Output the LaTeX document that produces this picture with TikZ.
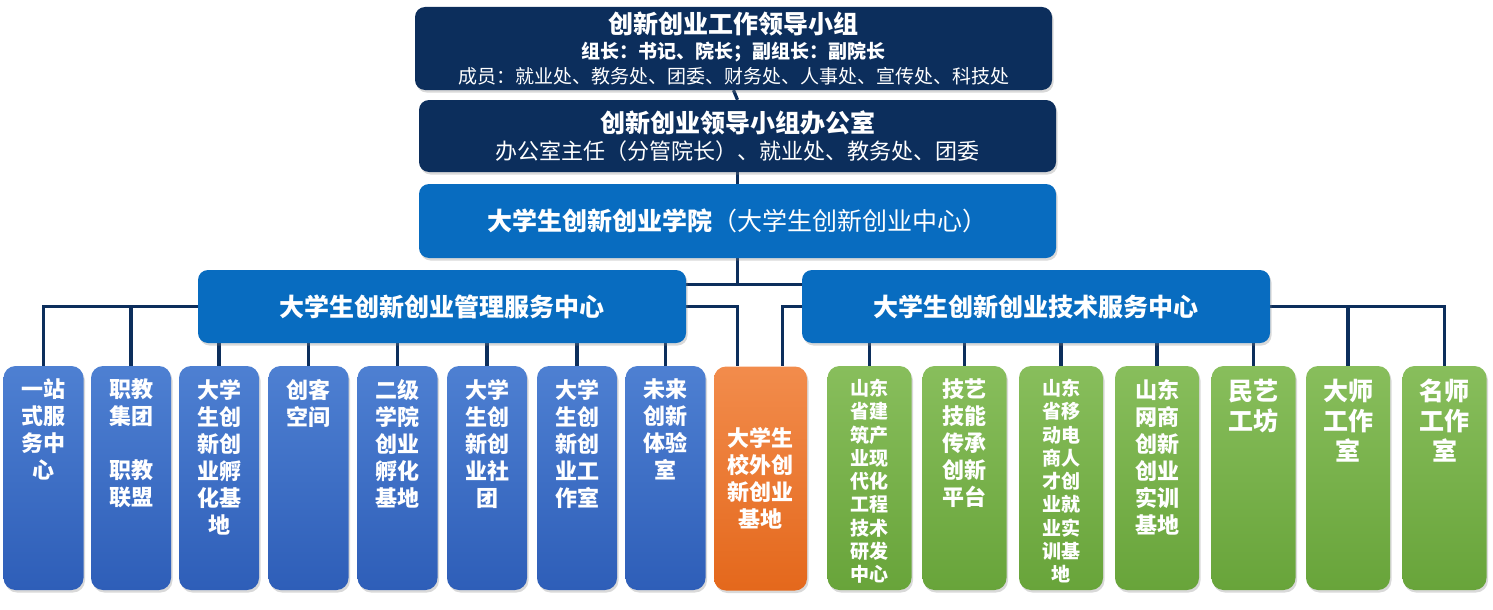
\documentclass[tikz,border=0pt]{standalone}
\usepackage{fontspec}
\setmainfont{Noto Sans CJK SC}
\usetikzlibrary{positioning,shadows,backgrounds}
\definecolor{navy}{RGB}{12,46,92}
\definecolor{midblue}{RGB}{8,108,192}
\definecolor{itemtop}{RGB}{78,128,210}
\definecolor{itembot}{RGB}{46,94,184}
\definecolor{orgtop}{RGB}{242,140,76}
\definecolor{orgbot}{RGB}{228,104,28}
\definecolor{grntop}{RGB}{136,190,92}
\definecolor{grnbot}{RGB}{104,164,58}

\begin{document}
\begin{tikzpicture}[x=1pt,y=-1pt,
    link/.style={draw=navy, line width=3.2pt},
    shade box/.style={drop shadow={shadow xshift=1.5pt, shadow yshift=-2.5pt, opacity=0.3}},
    headbox/.style={shade box, rounded corners=10pt, fill=navy, text=white, align=center,
        minimum width=637pt, inner sep=0pt},
    unitbox/.style={shade box, rounded corners=10pt, fill=midblue, text=white, align=center,
        minimum height=73pt, inner sep=0pt, font=\fontsize{25}{27}\selectfont\bfseries},
    itembox/.style={shade box, rounded corners=12pt, top color=itemtop, bottom color=itembot,
        minimum width=80pt, minimum height=224pt, inner sep=0pt},
    basebox/.style={itembox, top color=orgtop, bottom color=orgbot, minimum width=93pt},
    techbox/.style={itembox, top color=grntop, bottom color=grnbot, minimum width=84pt},
    itemtext/.style={text=white, align=center, inner sep=0pt, font=\fontsize{22}{27}\selectfont\bfseries},
    smalltext/.style={itemtext, font=\fontsize{19}{23.3}\selectfont\bfseries},
    bigtext/.style={itemtext, font=\fontsize{25}{30}\selectfont\bfseries}]
    \useasboundingbox (0,0) rectangle (1493,610);

    % leadership
    \node[headbox, minimum height=83pt, font=\fontsize{19}{25}\selectfont] (lead) at (733.5,48.5)
        {{\fontsize{25}{27}\selectfont\bfseries 创新创业工作领导小组}\\
         {\bfseries 组长：书记、院长；副组长：副院长}\\
         成员：就业处、教务处、团委、财务处、人事处、宣传处、科技处};
    \node[headbox, minimum height=72pt, font=\fontsize{22}{27}\selectfont] (office) at (737.5,136)
        {{\fontsize{25}{27}\selectfont\bfseries 创新创业领导小组办公室}\\
         办公室主任（分管院长）、就业处、教务处、团委};
    \node[unitbox, minimum width=637pt, minimum height=74pt] (college) at (737.5,221)
        {大学生创新创业学院{\mdseries （大学生创新创业中心）}};

    % service centres
    \node[unitbox, minimum width=488pt] (mgmt) at (442,306.5) {大学生创新创业管理服务中心};
    \node[unitbox, minimum width=468pt] (tech) at (1036,306.5) {大学生创新创业技术服务中心};

    % management units
    \node[itembox] (b1) at (43.5,478) {};
    \node[itembox] (b2) at (131,478) {};
    \node[itembox] (b3) at (219,478) {};
    \node[itembox] (b4) at (308.5,478) {};
    \node[itembox] (b5) at (397.5,478) {};
    \node[itembox] (b6) at (487,478) {};
    \node[itembox] (b7) at (577,478) {};
    \node[itembox] (b8) at (665.5,478) {};
    \node[basebox] (base) at (760.5,478.5) {};
    % technical units
    \node[techbox] (g1) at (869.5,478) {};
    \node[techbox] (g2) at (964.5,478) {};
    \node[techbox] (g3) at (1061,478) {};
    \node[techbox] (g4) at (1157,478) {};
    \node[techbox] (g5) at (1253.5,478) {};
    \node[techbox] (g6) at (1348,478) {};
    \node[techbox] (g7) at (1444.5,478) {};

    \node[itemtext, below=13pt of b1.north] (t1) {一站\\式服\\务中\\心};
    \node[itemtext, below=13pt of b2.north] (t2) {职教\\集团\\[27pt]职教\\联盟};
    \node[itemtext, below=13pt of b3.north] (t3) {大学\\生创\\新创\\业孵\\化基\\地};
    \node[itemtext, below=13pt of b4.north] (t4) {创客\\空间};
    \node[itemtext, below=13pt of b5.north] (t5) {二级\\学院\\创业\\孵化\\基地};
    \node[itemtext, below=13pt of b6.north] (t6) {大学\\生创\\新创\\业社\\团};
    \node[itemtext, below=13pt of b7.north] (t7) {大学\\生创\\新创\\业工\\作室};
    \node[itemtext, below=13pt of b8.north] (t8) {未来\\创新\\体验\\室};
    \node[itemtext] (tb) at (base) {大学生\\校外创\\新创业\\基地};
    \node[smalltext, below=13pt of g1.north] (s1) {山东\\省建\\筑产\\业现\\代化\\工程\\技术\\研发\\中心};
    \node[itemtext, below=13pt of g2.north] (s2) {技艺\\技能\\传承\\创新\\平台};
    \node[smalltext, below=13pt of g3.north] (s3) {山东\\省移\\动电\\商人\\才创\\业就\\业实\\训基\\地};
    \node[itemtext, below=13pt of g4.north] (s4) {山东\\网商\\创新\\创业\\实训\\基地};
    \node[bigtext, below=13pt of g5.north] (s5) {民艺\\工坊};
    \node[bigtext, below=13pt of g6.north] (s6) {大师\\工作\\室};
    \node[bigtext, below=13pt of g7.north] (s7) {名师\\工作\\室};

    % connectors
    \begin{scope}[on background layer]
        \draw[link] (lead.south) -- (office.north);
        \draw[link] (office.south) -- (college.north);
        \draw[link] (college.south) -- ([yshift=22pt]college.south |- mgmt.east);
        \draw[link] ([yshift=22pt]mgmt.east) -- ([yshift=22pt]tech.west);
        \draw[link] (mgmt.east) -| (base.north -| college.south);
        \draw[link] (tech.west) -| ([xshift=22pt]base.north);
        \draw[link] (mgmt.west) -| (b1.north);
        \draw[link] (mgmt.west -| b2.north) -- (b2.north);
        \foreach \b in {b3,b4,b5,b6,b7,b8}
            \draw[link] (mgmt.south -| \b.north) -- (\b.north);
        \foreach \g in {g1,g2,g3,g4,g5}
            \draw[link] (tech.south -| \g.north) -- (\g.north);
        \draw[link] (tech.east) -| (g7.north);
        \draw[link] (tech.east -| g6.north) -- (g6.north);
    \end{scope}
\end{tikzpicture}
\end{document}
